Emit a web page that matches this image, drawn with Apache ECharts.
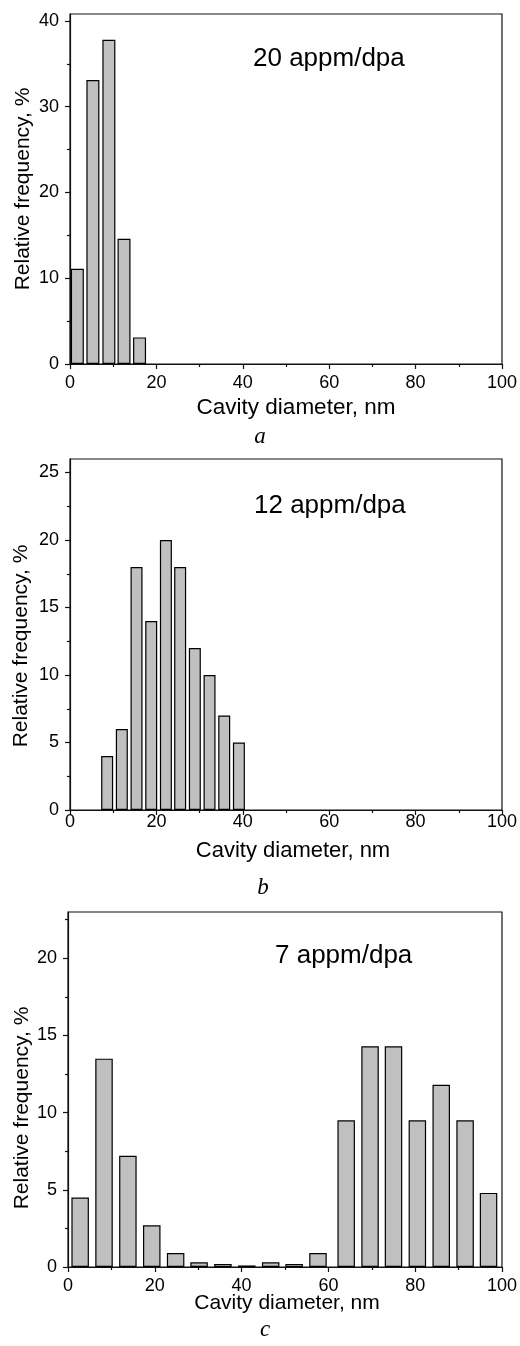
<!DOCTYPE html>
<html lang="en">
<head>
    <meta charset="UTF-8">
    <title>Cavity diameter distributions</title>
    <style>
        html, body { margin: 0; padding: 0; background: #fff; }
        #chart { width: 520px; height: 1346px; }
    </style>
</head>
<body>
<div id="chart"></div>
<script src="https://cdn.jsdelivr.net/npm/echarts@6/dist/echarts.min.js"></script>
<script type="text/javascript">
    // panel a, 20 appm/dpa
    var diamA = [1.7, 5.3, 9.0, 12.5, 16.1];
    var freqA = [11.1, 33.1, 37.8, 14.6, 3.1];
    // panel b, 12 appm/dpa
    var diamB = [8.6, 12.0, 15.4, 18.8, 22.2, 25.5, 28.9, 32.3, 35.7, 39.1];
    var freqB = [4, 6, 18, 14, 20, 18, 12, 10, 7, 5];
    // panel c, 7 appm/dpa
    var diamC = [2.8, 8.3, 13.8, 19.3, 24.8, 30.2, 35.7, 41.2, 46.7, 52.1, 57.6, 64.1, 69.6, 75.0, 80.5, 86.0, 91.5, 96.9];
    var freqC = [4.5, 13.5, 7.2, 2.7, 0.9, 0.3, 0.2, 0.1, 0.3, 0.2, 0.9, 9.5, 14.3, 14.3, 9.5, 11.8, 9.5, 4.8];

    var doseLabels = ['20 appm/dpa', '12 appm/dpa', '7 appm/dpa'];
    var panelLetters = ['a', 'b', 'c'];
    var xTitle = 'Cavity diameter, nm';
    var yTitle = 'Relative frequency, %';

    // y ticks per panel (major with labels, minor without)
    var yTicksA = [0, 10, 20, 30, 40], yMinorA = [5, 15, 25, 35], yMaxA = 40.8;
    var yTicksB = [0, 5, 10, 15, 20, 25], yMinorB = [2.5, 7.5, 12.5, 17.5, 22.5], yMaxB = 26;
    var yTicksC = [0, 5, 10, 15, 20], yMinorC = [2.5, 7.5, 12.5, 17.5, 22.5], yMaxC = 23;

    var FONT = 'Liberation Sans, Arial, sans-serif';

    // layout of the three plot boxes (px)
    var boxes = [
        {left: 70, top: 14, width: 432, height: 350, barW: 13, labelGap: 10, titleSize: 22.5,
            title: [296, 408], yt: [23, 189], dose: [253, 59], letter: [260, 437]},
        {left: 70, top: 459, width: 433, height: 351, barW: 12, labelGap: 3, titleSize: 22,
            title: [293, 851], yt: [21, 646], dose: [254, 506], letter: [263, 888]},
        {left: 68, top: 912, width: 435, height: 355, barW: 17.5, labelGap: 10, titleSize: 21,
            title: [287, 1303], yt: [22, 1108], dose: [275, 956], letter: [265, 1330]}
    ];
    var dataSets = [
        {x: diamA, y: freqA, ticks: yTicksA, minor: yMinorA, max: yMaxA},
        {x: diamB, y: freqB, ticks: yTicksB, minor: yMinorB, max: yMaxB},
        {x: diamC, y: freqC, ticks: yTicksC, minor: yMinorC, max: yMaxC}
    ];

    var grids = [], xAxes = [], yAxes = [], series = [], texts = [];

    boxes.forEach(function (b, i) {
        var d = dataSets[i];
        grids.push({
            left: b.left, top: b.top, width: b.width, height: b.height,
            show: true, borderColor: '#111', borderWidth: 1.2, backgroundColor: 'transparent'
        });
        xAxes.push({
            type: 'value', gridIndex: i, min: 0, max: 100, interval: 20,
            axisLine: {show: true, onZero: false, lineStyle: {color: '#111', width: 1.2}},
            axisTick: {show: true, inside: false, length: 5, lineStyle: {color: '#111', width: 1.2}},
            minorTick: {show: true, splitNumber: 2, length: 3, lineStyle: {color: '#111', width: 1.2}},
            axisLabel: {color: '#000', fontSize: 18, fontFamily: FONT, margin: b.labelGap},
            splitLine: {show: false}
        });
        // main y axis
        yAxes.push({
            type: 'value', gridIndex: i, min: 0, max: d.max, position: 'left',
            axisLine: {show: true, onZero: false, lineStyle: {color: '#111', width: 1.2}},
            axisTick: {show: true, inside: false, length: 5, customValues: d.ticks, lineStyle: {color: '#111', width: 1.2}},
            axisLabel: {color: '#000', fontSize: 18, fontFamily: FONT, margin: 11, customValues: d.ticks},
            splitLine: {show: false}
        });
        // minor ticks only
        yAxes.push({
            type: 'value', gridIndex: i, min: 0, max: d.max, position: 'left', offset: 0,
            axisLine: {show: false},
            axisTick: {show: true, inside: false, length: 3, customValues: d.minor, lineStyle: {color: '#111', width: 1.2}},
            axisLabel: {show: false},
            splitLine: {show: false}
        });
        series.push({
            type: 'bar', xAxisIndex: i, yAxisIndex: i * 2,
            barWidth: b.barW,
            data: d.x.map(function (v, k) { return [v, d.y[k]]; }),
            itemStyle: {color: '#c0c0c0', borderColor: '#000', borderWidth: 1.2},
            silent: true
        });

        texts.push({
            type: 'text', x: b.title[0], y: b.title[1],
            style: {text: xTitle, fill: '#000', font: b.titleSize + 'px ' + FONT, textAlign: 'center', textVerticalAlign: 'middle'}
        });
        texts.push({
            type: 'text', x: b.yt[0], y: b.yt[1], rotation: Math.PI / 2,
            style: {text: yTitle, fill: '#000', font: '21px ' + FONT, textAlign: 'center', textVerticalAlign: 'middle'}
        });
        texts.push({
            type: 'text', x: b.dose[0], y: b.dose[1],
            style: {text: doseLabels[i], fill: '#000', font: '26px ' + FONT, textAlign: 'left', textVerticalAlign: 'middle'}
        });
        texts.push({
            type: 'text', x: b.letter[0], y: b.letter[1],
            style: {text: panelLetters[i], fill: '#000', font: 'italic 23px Liberation Serif, Times New Roman, serif',
                textAlign: 'center', textVerticalAlign: 'middle'}
        });
    });

    var myChart = echarts.init(document.getElementById('chart'), null, {renderer: 'canvas'});
    myChart.setOption({
        backgroundColor: '#fff',
        animation: false,
        grid: grids,
        xAxis: xAxes,
        yAxis: yAxes,
        series: series,
        graphic: texts
    });
</script>
</body>
</html>
